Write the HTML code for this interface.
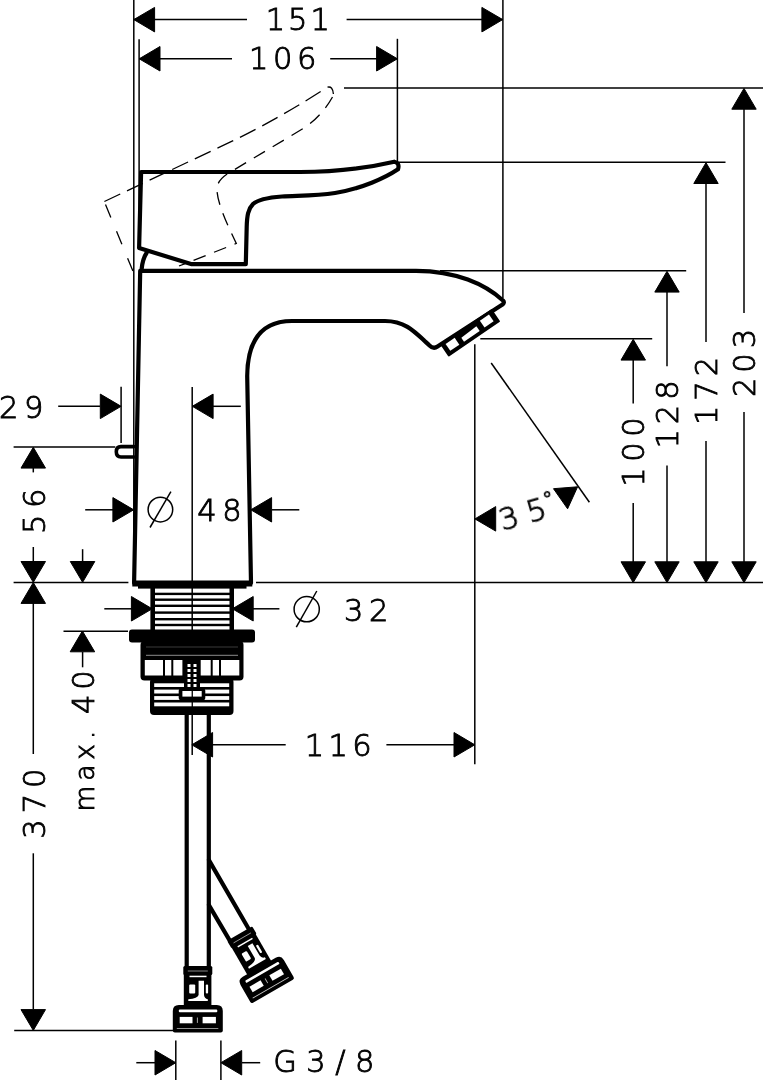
<!DOCTYPE html>
<html lang="en"><head><meta charset="utf-8"><title>Dimension drawing</title>
<style>
html,body{margin:0;padding:0;background:#fff}
body{width:763px;height:1080px;overflow:hidden}
svg{display:block}
.thin line,.thin circle{stroke:#000;stroke-width:1.5}
.thin{stroke:#000;stroke-width:1.5;fill:none}
.thick{stroke:#000;stroke-width:4.2;fill:none;stroke-linejoin:round;stroke-linecap:round}
.dash{stroke:#000;stroke-width:1.3;fill:none;stroke-dasharray:17.5 7.5}
.ah{fill:#000;stroke:#000;stroke-width:1;stroke-linejoin:round}
.blk{fill:#000}
.txt{opacity:.999}
.txt text{font-family:"DejaVu Sans Light","DejaVu Sans","Liberation Sans",sans-serif;font-weight:200;fill:#000;stroke:#000;stroke-width:.9}
</style></head>
<body>
<svg width="763" height="1080" viewBox="0 0 763 1080">
<rect width="763" height="1080" fill="#fff"/>
<g class="thin">
<line x1="133.8" y1="0" x2="133.8" y2="582" stroke-width="1.5" />
<line x1="139.1" y1="39.3" x2="139.1" y2="250" stroke-width="1.5" />
<line x1="397.4" y1="38.8" x2="397.4" y2="162" stroke-width="1.5" />
<line x1="502.9" y1="0" x2="502.9" y2="298" stroke-width="1.5" />
<line x1="134" y1="19.6" x2="247" y2="19.6" stroke-width="1.5" />
<line x1="346.6" y1="19.6" x2="502.5" y2="19.6" stroke-width="1.5" />
<line x1="139" y1="58.8" x2="232" y2="58.8" stroke-width="1.5" />
<line x1="330.2" y1="58.8" x2="397.4" y2="58.8" stroke-width="1.5" />
<line x1="344" y1="87.9" x2="763" y2="87.9" stroke-width="1.5" />
<line x1="398" y1="162.2" x2="725.5" y2="162.2" stroke-width="1.5" />
<line x1="440" y1="270.8" x2="686.2" y2="270.8" stroke-width="1.5" />
<line x1="480.3" y1="338.8" x2="652.2" y2="338.8" stroke-width="1.5" />
<line x1="13.6" y1="582.6" x2="128.4" y2="582.6" stroke-width="1.5" />
<line x1="256" y1="582.6" x2="763" y2="582.6" stroke-width="1.5" />
<line x1="633.2" y1="360" x2="633.2" y2="403.6" stroke-width="1.5" />
<line x1="633.2" y1="503.1" x2="633.2" y2="562" stroke-width="1.5" />
<line x1="667" y1="292" x2="667" y2="366.3" stroke-width="1.5" />
<line x1="667" y1="465.6" x2="667" y2="562" stroke-width="1.5" />
<line x1="706" y1="183" x2="706" y2="341.9" stroke-width="1.5" />
<line x1="706" y1="441.1" x2="706" y2="562" stroke-width="1.5" />
<line x1="744" y1="109" x2="744" y2="312.9" stroke-width="1.5" />
<line x1="744" y1="412.1" x2="744" y2="562" stroke-width="1.5" />
<line x1="474.8" y1="344.2" x2="474.8" y2="764.3" stroke-width="1.5" />
<line x1="491.2" y1="363" x2="589.4" y2="502.2" stroke-width="1.5" />
<line x1="192.2" y1="387" x2="192.2" y2="755" stroke-width="1.5" />
<line x1="121.1" y1="386.8" x2="121.1" y2="443" stroke-width="1.5" />
<line x1="58.2" y1="406.3" x2="100" y2="406.3" stroke-width="1.5" />
<line x1="213" y1="406.3" x2="240.8" y2="406.3" stroke-width="1.5" />
<line x1="13.6" y1="447" x2="115.3" y2="447" stroke-width="1.5" />
<line x1="33.3" y1="468" x2="33.3" y2="472.4" stroke-width="1.5" />
<line x1="33.3" y1="547" x2="33.3" y2="562" stroke-width="1.5" />
<line x1="33.3" y1="603" x2="33.3" y2="754" stroke-width="1.5" />
<line x1="33.3" y1="853.3" x2="33.3" y2="1009" stroke-width="1.5" />
<line x1="82.6" y1="549.2" x2="82.6" y2="562" stroke-width="1.5" />
<line x1="82.6" y1="652" x2="82.6" y2="667.3" stroke-width="1.5" />
<line x1="85.2" y1="509.8" x2="113" y2="509.8" stroke-width="1.5" />
<line x1="272" y1="509.8" x2="299.3" y2="509.8" stroke-width="1.5" />
<line x1="104.3" y1="608.8" x2="132" y2="608.8" stroke-width="1.5" />
<line x1="253" y1="608.8" x2="279.4" y2="608.8" stroke-width="1.5" />
<line x1="63.5" y1="631.3" x2="128" y2="631.3" stroke-width="1.5" />
<line x1="14.2" y1="1030.6" x2="180" y2="1030.6" stroke-width="1.5" />
<line x1="175.8" y1="1040.4" x2="175.8" y2="1080" stroke-width="1.5" />
<line x1="220.9" y1="1040.4" x2="220.9" y2="1080" stroke-width="1.5" />
<line x1="136.3" y1="1062.7" x2="155" y2="1062.7" stroke-width="1.5" />
<line x1="242" y1="1062.7" x2="260.2" y2="1062.7" stroke-width="1.5" />
<line x1="212" y1="744.8" x2="285.7" y2="744.8" stroke-width="1.5" />
<line x1="386.4" y1="744.8" x2="454" y2="744.8" stroke-width="1.5" />
</g>
<polygon class="ah" points="133.8,19.6 154.6,7.4 154.6,31.9"/>
<polygon class="ah" points="502.7,19.6 481.9,31.9 481.9,7.4"/>
<polygon class="ah" points="139.2,58.8 160.0,46.5 160.0,71.0"/>
<polygon class="ah" points="397.4,58.8 376.6,71.0 376.6,46.5"/>
<polygon class="ah" points="744.0,88.4 756.2,109.2 731.8,109.2"/>
<polygon class="ah" points="706.0,162.7 718.2,183.5 693.8,183.5"/>
<polygon class="ah" points="667.0,271.3 679.2,292.1 654.8,292.1"/>
<polygon class="ah" points="633.2,339.3 645.5,360.1 621.0,360.1"/>
<polygon class="ah" points="633.2,582.6 621.0,561.8 645.5,561.8"/>
<polygon class="ah" points="667.0,582.6 654.8,561.8 679.2,561.8"/>
<polygon class="ah" points="706.0,582.6 693.8,561.8 718.2,561.8"/>
<polygon class="ah" points="744.0,582.6 731.8,561.8 756.2,561.8"/>
<polygon class="ah" points="121.1,406.3 100.3,418.6 100.3,394.1"/>
<polygon class="ah" points="192.3,406.3 213.1,394.1 213.1,418.6"/>
<polygon class="ah" points="33.3,447.3 45.5,468.1 21.0,468.1"/>
<polygon class="ah" points="33.3,582.3 21.0,561.5 45.5,561.5"/>
<polygon class="ah" points="33.3,582.6 45.5,603.4 21.0,603.4"/>
<polygon class="ah" points="82.6,582.3 70.3,561.5 94.8,561.5"/>
<polygon class="ah" points="133.7,509.8 112.9,522.0 112.9,497.6"/>
<polygon class="ah" points="250.8,509.8 271.6,497.6 271.6,522.0"/>
<polygon class="ah" points="152.2,608.8 131.4,621.0 131.4,596.5"/>
<polygon class="ah" points="232.4,608.8 253.2,596.5 253.2,621.0"/>
<polygon class="ah" points="82.4,631.0 94.7,651.8 70.2,651.8"/>
<polygon class="ah" points="33.3,1030.4 21.0,1009.6 45.5,1009.6"/>
<polygon class="ah" points="175.8,1062.7 155.0,1075.0 155.0,1050.5"/>
<polygon class="ah" points="220.9,1062.7 241.7,1050.5 241.7,1075.0"/>
<polygon class="ah" points="191.8,744.8 212.6,732.5 212.6,757.0"/>
<polygon class="ah" points="474.8,744.8 454.0,757.0 454.0,732.5"/>
<polygon class="ah" points="474.9,518.9 495.7,506.6 495.7,531.1"/>
<polygon class="ah" points="577.6,486.8 567.6,508.8 553.5,488.7"/>
<g class="thin" fill="none"><circle cx="160.4" cy="509.6" r="12.3" stroke-width="2"/><line x1="150" y1="527.5" x2="170.9" y2="491.6" stroke-width="2"/><circle cx="306.7" cy="609.2" r="12.6" stroke-width="2"/><line x1="296.3" y1="627.2" x2="316.8" y2="591" stroke-width="2"/></g>
<g class="txt">
<text font-size="30.5" letter-spacing="3" text-anchor="middle" transform="translate(299.3 30.2)" >151</text>
<text font-size="30.5" letter-spacing="4.6" text-anchor="middle" transform="translate(285 69)" >106</text>
<text font-size="30.5" letter-spacing="5.7" text-anchor="middle" transform="translate(24 417.6)" >29</text>
<text font-size="30.5" letter-spacing="5.7" text-anchor="middle" transform="translate(222.3 521.2)" >48</text>
<text font-size="30.5" letter-spacing="5.5" text-anchor="middle" transform="translate(369 621)" >32</text>
<text font-size="30.5" letter-spacing="4.3" text-anchor="middle" transform="translate(340.4 756.4)" >116</text>
<text font-size="30.5" letter-spacing="9.5" text-anchor="middle" transform="translate(328.5 1071.8)" >G3/8</text>
<text font-size="30.5" letter-spacing="6.5" text-anchor="middle" transform="translate(45 508) rotate(-90)" >56</text>
<text font-size="30.5" letter-spacing="6" text-anchor="middle" transform="translate(45 800.6) rotate(-90)" >370</text>
<text font-size="30.5" text-anchor="start" transform="translate(93.6 811.5) rotate(-90)"><tspan font-size="26.5" letter-spacing="4.9">max.</tspan> <tspan x="121.7" text-anchor="middle" letter-spacing="4.7">40</tspan></text>
<text font-size="30.5" letter-spacing="5.7" text-anchor="middle" transform="translate(644.4 449.2) rotate(-90)" >100</text>
<text font-size="30.5" letter-spacing="5" text-anchor="middle" transform="translate(677.8 412) rotate(-90)" >128</text>
<text font-size="30.5" letter-spacing="5" text-anchor="middle" transform="translate(716.8 388.5) rotate(-90)" >172</text>
<text font-size="30.5" letter-spacing="5" text-anchor="middle" transform="translate(755 360.5) rotate(-90)" >203</text>
<text font-size="30.5" letter-spacing="9" text-anchor="start" transform="translate(502.5 531) rotate(-16)" >35<tspan font-size="21" dx="-9" dy="-10">°</tspan></text>
</g>
<g class="thick">
<path d="M141.1,172 L300,172 C335,172 365,168.5 394.3,161.7 Q400,163 398,169.3 C385,178 362,188.5 335,193 C315,196 296,195.5 282,196.5 C268,197.5 258,199.5 253,204 C248,209 247,216 246.7,227 L245.8,264.2 L191.8,264.2 L139.1,248 Z"/>
<path d="M141.6,269.5 Q142.5,259 146.8,252.5"/>
<path d="M140.2,270.8 L134.1,583 L251,583 L247.2,376 C247.5,340 262,321 292,321 L385,321 C405,321 414,331 429.5,345.5 Q433.5,349.5 437.5,346.5 L502.5,304.6 Q505,302.5 503,300.5 C485,284 456,271 416,270.8 Z"/>
<path d="M134,446.6 L121,446.6 Q116.3,446.6 116.3,451.8 Q116.3,457 121,457 L134,457" stroke-width="3.6"/>
</g>
<g transform="translate(436.2,348) rotate(-34.3)">
<rect x="5.3" y="-1" width="62.6" height="15.2" rx="1" fill="#000"/>
<rect x="10" y="2" width="11" height="8.3" fill="#fff"/>
<path d="M26.5,10.5 L26.5,5.8 L45.5,4.6 L45.5,10.5 Z" fill="#fff"/>
<rect x="51.5" y="2" width="11" height="8.3" fill="#fff"/>
</g>
<g class="dash">
<path d="M104.4,201.5 L230,142.2 C265,125.5 300,105 326.5,87.8"/>
<path d="M327.5,87.2 Q332.8,85.8 333.4,94" stroke-dasharray="none"/>
<path d="M332.5,97 C327,107 318,118 306,126.8 L228,173.5 Q215,182 217.1,192 C218.5,206 228,226 236.3,243.5 L179,266" stroke-dasharray="13 9"/>
<path d="M105.5,204.5 L133.3,272" stroke-dasharray="14 15"/>
</g>
<g class="blk">
<rect x="132.3" y="580.5" width="120" height="6"/>
<rect x="138" y="586" width="108.5" height="2.6"/>
<rect x="150.4" y="586" width="4.6" height="45"/>
<rect x="229.5" y="586" width="4.5" height="45"/>
<rect x="153" y="592.6999999999999" width="78" height="2.4"/>
<rect x="153" y="598.5" width="78" height="2.4"/>
<rect x="153" y="604.5999999999999" width="78" height="2.4"/>
<rect x="153" y="611.4" width="78" height="2.4"/>
<rect x="153" y="618.0" width="78" height="2.4"/>
<rect x="153" y="623.8" width="78" height="2.4"/>
<rect x="129" y="629.6" width="126" height="13" rx="3"/>
<rect x="140.5" y="641" width="103" height="39.5" rx="4"/>
<rect x="150" y="678" width="83.5" height="37" rx="4"/>
</g>
<g fill="#fff">
<rect x="146" y="646.5" width="92" height="1" fill="#3a3a3a"/>
<rect x="146" y="654.8" width="92" height="1" fill="#8a8a8a"/>
<rect x="144.8" y="660" width="18.19999999999999" height="15.5"/>
<rect x="165" y="660" width="6.300000000000011" height="15.5"/>
<rect x="173.3" y="660" width="9.099999999999994" height="15.5"/>
<rect x="200.7" y="660" width="10.0" height="15.5"/>
<rect x="212.7" y="660" width="6.300000000000011" height="15.5"/>
<rect x="221" y="660" width="18.30000000000001" height="15.5"/>
<rect x="154.2" y="683.3" width="75" height="3.7000000000000455"/>
<rect x="154.2" y="689.6" width="75" height="3.8999999999999773"/>
<rect x="154.2" y="696.1" width="75" height="3.7999999999999545"/>
<rect x="154.2" y="702.5" width="75" height="3.7999999999999545"/>
</g>
<g class="blk">
<rect x="184" y="678" width="16" height="12"/>
<rect x="178.7" y="688" width="26.6" height="12.5" rx="3"/>
</g>
<g fill="#fff">
<rect x="182.4" y="691" width="19.3" height="5.6"/>
<rect x="187.5" y="664" width="3" height="3"/><rect x="193.5" y="664" width="3" height="3"/>
<rect x="187.5" y="669" width="3" height="3"/><rect x="193.5" y="669" width="3" height="3"/>
<rect x="187.5" y="674" width="3" height="3"/><rect x="193.5" y="674" width="3" height="3"/>
<rect x="187.5" y="679" width="3" height="3"/><rect x="193.5" y="679" width="3" height="3"/>
<rect x="187.5" y="684" width="3" height="3"/><rect x="193.5" y="684" width="3" height="3"/>
</g>
<rect class="blk" x="191.6" y="660" width="1.3" height="50"/>
<g class="thick" stroke-width="4.3" stroke-linecap="butt">
<path d="M186.7,714 L186.7,968 M208.8,714 L208.8,968"/>
<path d="M208.9,860.1 L250.2,931.5 M208.9,905.1 L229.2,939.6"/>
</g>
<g transform="translate(197.8,966)"><rect x="-14.5" y="0" width="29" height="9" rx="1.5" fill="#000"/>
<rect x="-14" y="8" width="27.6" height="32" fill="#000"/>
<path d="M-10,5 L10,5" stroke="#aaa" stroke-width=".8"/>
<g fill="#fff">
<rect x="-8.3" y="9.7" width="17" height="1.5"/>
<rect x="-8.6" y="18.4" width="6" height="9.1" rx="1"/>
<rect x="8" y="18.4" width="2.3" height="9.1" rx="1"/>
<path d="M0.8,14.7 L6.2,14.7 L6.2,29 Q6.5,32.5 10,33.2 L10,35 L-9.5,35 L-9.5,33.2 Q0,32.5 0.8,29 Z"/>
</g>
<path d="M-25,64.5 L-25,45 Q-25,39 -19,39 L19,39 Q25,39 25,45 L25,64.5 Q25,66.5 23,66.5 L-23,66.5 Q-25,66.5 -25,64.5 Z" fill="#000"/>
<g fill="#fff">
<rect x="-19" y="43.6" width="38.5" height="2.6" rx="1"/>
<rect x="-18.1" y="50.9" width="12.8" height="6.4"/>
<rect x="4.8" y="50.9" width="13.3" height="6.4"/>
<rect x="-0.9" y="51.5" width="0.9" height="5.4" fill="#bbb"/>
<rect x="-21" y="62" width="41.5" height="0.7" fill="#ccc"/>
</g></g>
<g transform="translate(239.7,933.6) rotate(-30)"><rect x="-14.5" y="0" width="29" height="9" rx="1.5" fill="#000"/>
<rect x="-14" y="8" width="27.6" height="32" fill="#000"/>
<path d="M-10,5 L10,5" stroke="#aaa" stroke-width=".8"/>
<g fill="#fff">
<rect x="-8.3" y="9.7" width="17" height="1.5"/>
<rect x="-8.6" y="18.4" width="6" height="9.1" rx="1"/>
<rect x="8" y="18.4" width="2.3" height="9.1" rx="1"/>
<path d="M0.8,14.7 L6.2,14.7 L6.2,29 Q6.5,32.5 10,33.2 L10,35 L-9.5,35 L-9.5,33.2 Q0,32.5 0.8,29 Z"/>
</g>
<path d="M-25,64.5 L-25,45 Q-25,39 -19,39 L19,39 Q25,39 25,45 L25,64.5 Q25,66.5 23,66.5 L-23,66.5 Q-25,66.5 -25,64.5 Z" fill="#000"/>
<g fill="#fff">
<rect x="-19" y="43.6" width="38.5" height="2.6" rx="1"/>
<rect x="-18.1" y="50.9" width="12.8" height="6.4"/>
<rect x="4.8" y="50.9" width="13.3" height="6.4"/>
<rect x="-0.9" y="51.5" width="0.9" height="5.4" fill="#bbb"/>
<rect x="-21" y="62" width="41.5" height="0.7" fill="#ccc"/>
</g></g>
</svg>
</body></html>
